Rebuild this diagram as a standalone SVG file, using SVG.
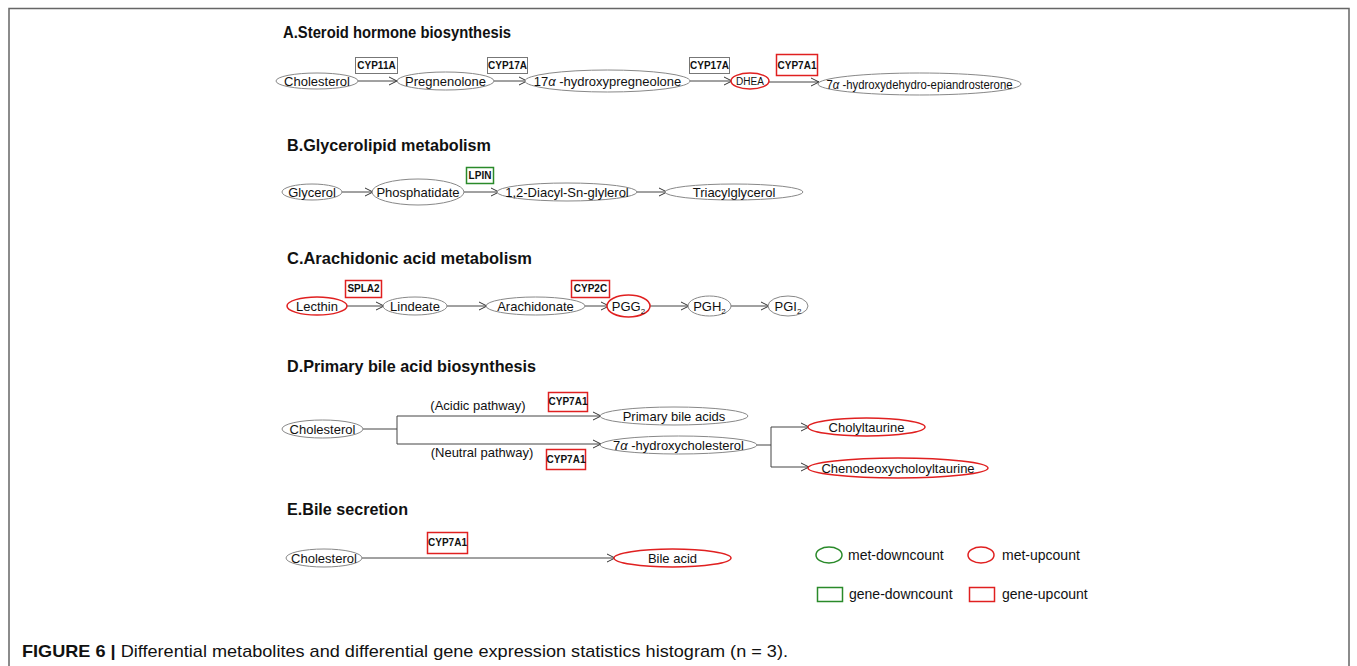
<svg xmlns="http://www.w3.org/2000/svg" width="1357" height="666" viewBox="0 0 1357 666">
<defs>
<marker id="arr" markerWidth="10" markerHeight="10" refX="9" refY="5" orient="auto" markerUnits="userSpaceOnUse">
<path d="M1,1 L9,5 L1,9" fill="none" stroke="#333" stroke-width="1"/>
</marker>
<style>
.t{font-family:"Liberation Sans",Arial,sans-serif;font-size:17px;font-weight:bold;fill:#111}
.n{font-family:"Liberation Sans",Arial,sans-serif;font-size:13px;fill:#111;text-anchor:middle}
.g{font-family:"Liberation Sans",Arial,sans-serif;font-size:10px;font-weight:bold;fill:#111;text-anchor:middle}
.l{font-family:"Liberation Sans",Arial,sans-serif;font-size:14px;fill:#111}
.e{fill:#fff;stroke:#888;stroke-width:1}
.eu{fill:#fff;stroke:#e02020;stroke-width:1.5}
.ed{fill:#fff;stroke:#2a8a2a;stroke-width:1.5}
.b{fill:#fff;stroke:#777;stroke-width:1}
.bu{fill:#fff;stroke:#e02020;stroke-width:1.5}
.bd{fill:#fff;stroke:#2a8a2a;stroke-width:1.5}
.c{fill:none;stroke:#444;stroke-width:1}
.ca{fill:none;stroke:#444;stroke-width:1;marker-end:url(#arr)}
</style>
</defs>
<rect width="1357" height="666" fill="#fff"/>
<path d="M9,666 V8.5 H1349 V666" fill="none" stroke="#666" stroke-width="1.5"/>

<g id="titles">
<text class="t" x="283" y="38" textLength="228" lengthAdjust="spacingAndGlyphs">A.Steroid hormone biosynthesis</text>
<text class="t" x="287" y="151" textLength="204" lengthAdjust="spacingAndGlyphs">B.Glycerolipid metabolism</text>
<text class="t" x="287" y="264" textLength="245" lengthAdjust="spacingAndGlyphs">C.Arachidonic acid metabolism</text>
<text class="t" x="287" y="372" textLength="249" lengthAdjust="spacingAndGlyphs">D.Primary bile acid biosynthesis</text>
<text class="t" x="287" y="515" textLength="121" lengthAdjust="spacingAndGlyphs">E.Bile secretion</text>
</g>

<g id="connectors">
<line class="ca" x1="358" y1="81" x2="397" y2="81"/>
<line class="ca" x1="494" y1="81" x2="527" y2="81"/>
<line class="ca" x1="690" y1="81" x2="732" y2="81"/>
<line class="ca" x1="769" y1="82" x2="819" y2="82"/>
<line class="ca" x1="342" y1="192" x2="373" y2="192"/>
<line class="ca" x1="464" y1="192" x2="499" y2="192"/>
<line class="ca" x1="637" y1="192" x2="667" y2="192"/>
<line class="ca" x1="347" y1="306" x2="384" y2="306"/>
<line class="ca" x1="447" y1="306" x2="487" y2="306"/>
<line class="ca" x1="585" y1="306" x2="609" y2="306"/>
<line class="ca" x1="650" y1="306" x2="689" y2="306"/>
<line class="ca" x1="731" y1="306" x2="769" y2="306"/>
<path class="c" d="M363,429 H397 M397,416 V444"/>
<line class="ca" x1="397" y1="416" x2="601" y2="416"/>
<line class="ca" x1="397" y1="444" x2="601" y2="444"/>
<path class="c" d="M757,445 H771 M771,427 V467"/>
<line class="ca" x1="771" y1="427" x2="809" y2="427"/>
<line class="ca" x1="771" y1="467" x2="809" y2="467"/>
<line class="ca" x1="362" y1="558" x2="615" y2="558"/>
</g>

<g id="A-cholesterol"><ellipse class="e" cx="317" cy="81" rx="41" ry="8"/><text class="n" x="317" y="86">Cholesterol</text></g>
<g id="A-cyp11a"><rect class="b" x="355.5" y="57.5" width="42" height="16"/><text class="g" x="376.5" y="69">CYP11A</text></g>
<g id="A-pregnenolone"><ellipse class="e" cx="445.5" cy="81" rx="48.5" ry="9"/><text class="n" x="445.5" y="86">Pregnenolone</text></g>
<g id="A-cyp17a-1"><rect class="b" x="487.5" y="57.5" width="40" height="16"/><text class="g" x="507.5" y="69">CYP17A</text></g>
<g id="A-17oh"><ellipse class="e" cx="607.5" cy="81" rx="82.5" ry="11"/><text class="n" x="607.5" y="86">17<tspan font-style="italic">α</tspan> -hydroxypregneolone</text></g>
<g id="A-cyp17a-2"><rect class="b" x="689.5" y="57.5" width="40" height="16"/><text class="g" x="709.5" y="69">CYP17A</text></g>
<g id="A-dhea"><ellipse class="eu" cx="750" cy="81" rx="19" ry="8"/><text class="n" x="750" y="85" style="font-size:10px">DHEA</text></g>
<g id="A-cyp7a1"><rect class="bu" x="776.5" y="54.5" width="41" height="21"/><text class="g" x="797" y="69">CYP7A1</text></g>
<g id="A-7oh-dhea"><ellipse class="e" cx="919.5" cy="84" rx="101.5" ry="11"/><text class="n" x="919.5" y="89" textLength="186" lengthAdjust="spacingAndGlyphs">7<tspan font-style="italic">α</tspan> -hydroxydehydro-epiandrosterone</text></g>

<g id="B-glycerol"><ellipse class="e" cx="312" cy="192" rx="30" ry="8"/><text class="n" x="312" y="197">Glycerol</text></g>
<g id="B-phosphatidate"><ellipse class="e" cx="418" cy="192" rx="46" ry="13"/><text class="n" x="418" y="197">Phosphatidate</text></g>
<g id="B-lpin"><rect class="bd" x="466.5" y="167.5" width="27" height="16"/><text class="g" x="480" y="179">LPIN</text></g>
<g id="B-diacyl"><ellipse class="e" cx="567" cy="192" rx="70" ry="9"/><text class="n" x="567" y="197">1,2-Diacyl-Sn-glylerol</text></g>
<g id="B-tag"><ellipse class="e" cx="734" cy="192" rx="69" ry="8"/><text class="n" x="734" y="197">Triacylglycerol</text></g>

<g id="C-lecthin"><ellipse class="eu" cx="317" cy="306" rx="30" ry="9"/><text class="n" x="317" y="311">Lecthin</text></g>
<g id="C-spla2"><rect class="bu" x="345.5" y="280.5" width="36" height="17"/><text class="g" x="363.5" y="292">SPLA2</text></g>
<g id="C-lindeate"><ellipse class="e" cx="415" cy="306" rx="32" ry="9"/><text class="n" x="415" y="311">Lindeate</text></g>
<g id="C-arachidonate"><ellipse class="e" cx="535.5" cy="306" rx="49.5" ry="9"/><text class="n" x="535.5" y="311">Arachidonate</text></g>
<g id="C-cyp2c"><rect class="bu" x="571.5" y="280.5" width="38" height="17"/><text class="g" x="590.5" y="292">CYP2C</text></g>
<g id="C-pgg2"><ellipse class="eu" cx="628.5" cy="306" rx="21.5" ry="11"/><text class="n" x="628.5" y="311">PGG<tspan font-size="8" dy="3">2</tspan></text></g>
<g id="C-pgh2"><ellipse class="e" cx="709.5" cy="306" rx="21.5" ry="10"/><text class="n" x="709.5" y="311">PGH<tspan font-size="8" dy="3">2</tspan></text></g>
<g id="C-pgi2"><ellipse class="e" cx="788" cy="306" rx="20" ry="10"/><text class="n" x="788" y="311">PGI<tspan font-size="8" dy="3">2</tspan></text></g>

<g id="D-cholesterol"><ellipse class="e" cx="322.5" cy="429" rx="40.5" ry="9"/><text class="n" x="322.5" y="434">Cholesterol</text></g>
<g id="D-acidic"><text class="n" x="478" y="410">(Acidic pathway)</text></g>
<g id="D-cyp7a1-1"><rect class="bu" x="548.5" y="392.5" width="39" height="19"/><text class="g" x="568" y="405">CYP7A1</text></g>
<g id="D-primary"><ellipse class="e" cx="674" cy="416" rx="74" ry="9"/><text class="n" x="674" y="421">Primary bile acids</text></g>
<g id="D-neutral"><text class="n" x="482" y="457">(Neutral pathway)</text></g>
<g id="D-cyp7a1-2"><rect class="bu" x="546.5" y="449.5" width="39" height="20"/><text class="g" x="566" y="463">CYP7A1</text></g>
<g id="D-7ohc"><ellipse class="e" cx="678.5" cy="445" rx="78.5" ry="9"/><text class="n" x="678.5" y="450">7<tspan font-style="italic">α</tspan> -hydroxycholesterol</text></g>
<g id="D-cholyltaurine"><ellipse class="eu" cx="866.5" cy="427" rx="58.5" ry="9"/><text class="n" x="866.5" y="432">Cholyltaurine</text></g>
<g id="D-cdct"><ellipse class="eu" cx="898" cy="468" rx="90" ry="10"/><text class="n" x="898" y="473">Chenodeoxycholoyltaurine</text></g>

<g id="E-cholesterol"><ellipse class="e" cx="324" cy="558" rx="38" ry="9"/><text class="n" x="324" y="563">Cholesterol</text></g>
<g id="E-cyp7a1"><rect class="bu" x="427.5" y="532.5" width="40" height="21"/><text class="g" x="447.5" y="546">CYP7A1</text></g>
<g id="E-bileacid"><ellipse class="eu" cx="672.5" cy="558" rx="58.5" ry="9"/><text class="n" x="672.5" y="563">Bile acid</text></g>

<g id="legend">
<ellipse class="ed" cx="829" cy="555" rx="13" ry="8"/><text class="l" x="848" y="560">met-downcount</text>
<ellipse class="eu" cx="981" cy="555" rx="13" ry="8"/><text class="l" x="1002" y="560">met-upcount</text>
<rect class="bd" x="817.5" y="587.5" width="25" height="14"/><text class="l" x="849" y="599">gene-downcount</text>
<rect class="bu" x="969.5" y="587.5" width="25" height="14"/><text class="l" x="1002" y="599">gene-upcount</text>
</g>

<g id="caption">
<text x="22" y="657" textLength="766" lengthAdjust="spacingAndGlyphs" style="font-family:'Liberation Sans',Arial,sans-serif;font-size:17px;fill:#111"><tspan font-weight="bold">FIGURE 6 |</tspan> Differential metabolites and differential gene expression statistics histogram (n = 3).</text>
</g>
</svg>
